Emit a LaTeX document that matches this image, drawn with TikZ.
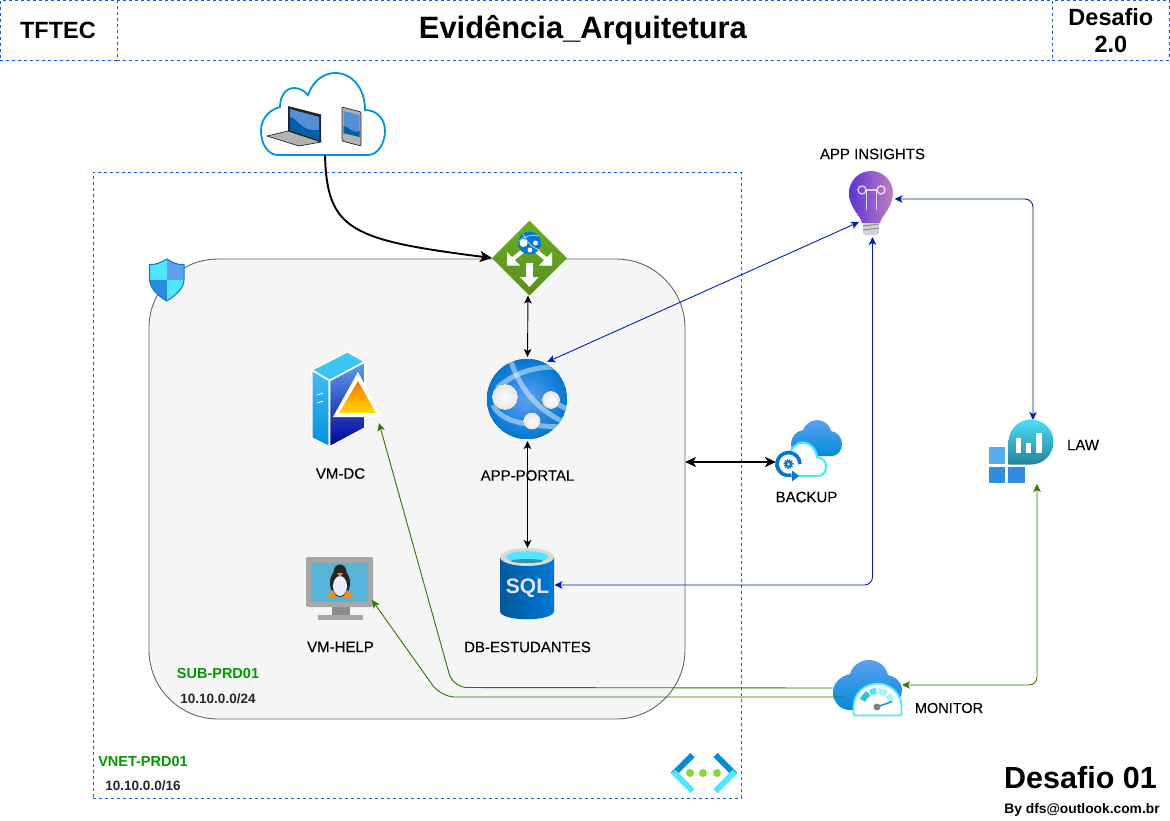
\documentclass[tikz,border=0pt]{standalone}
\usepackage{fontspec}
\setmainfont{Liberation Sans}
\newfontfamily\lblfont[FakeBold=0.12]{Liberation Sans}
\usetikzlibrary{arrows.meta,positioning}
\definecolor{dashblue}{RGB}{10,90,255}
\definecolor{arrowblue}{RGB}{0,29,188}
\definecolor{arrowgreen}{RGB}{45,118,0}
\definecolor{labelgreen}{RGB}{0,153,0}
\definecolor{subnetfill}{RGB}{245,245,245}
\definecolor{subnetline}{RGB}{102,102,102}
\definecolor{azblue}{RGB}{0,120,212}
\definecolor{azlight}{RGB}{94,160,239}
\definecolor{azcyan}{RGB}{80,230,255}
\definecolor{azteal}{RGB}{50,190,221}
\definecolor{gwgreen}{RGB}{112,178,42}
\definecolor{dotgreen}{RGB}{134,216,52}
\definecolor{vmscreen}{RGB}{85,180,216}
\tikzset{
dashline/.style={draw=dashblue, dash pattern=on 3pt off 3pt, line width=0.9pt},
headbox/.style={dashline, minimum height=59.5pt, inner sep=0pt, outer sep=0pt, align=center, font=\bfseries\fontsize{23.5}{27}\selectfont},
vnetbox/.style={dashline, minimum width=648pt, minimum height=626pt, inner sep=0pt, outer sep=0pt},
subnetbox/.style={draw=subnetline, fill=subnetfill, rounded corners=69pt, line width=0.9pt, minimum width=536pt, minimum height=460pt, inner sep=0pt, outer sep=0pt},
iconbox/.style={inner sep=0pt, outer sep=0pt},
lbl/.style={inner sep=0pt, font=\lblfont\fontsize{15}{18}\selectfont},
netname/.style={inner sep=0pt, text=labelgreen, font=\bfseries\fontsize{14.5}{17}\selectfont},
netaddr/.style={inner sep=0pt, text=black!85, font=\bfseries\fontsize{13.5}{16}\selectfont},
thinarrow/.style={{Stealth[length=8pt,width=7.5pt,inset=2pt]}-{Stealth[length=8pt,width=7.5pt,inset=2pt]}, line width=0.9pt},
thickarrow/.style={-{Stealth[length=12pt,width=11pt,inset=3pt]}, line width=1.9pt},
bluearrow/.style={thinarrow, draw=arrowblue, rounded corners=8pt},
greenarrow/.style={thinarrow, draw=arrowgreen, rounded corners=8pt},
greenline/.style={-{Stealth[length=8pt,width=7.5pt,inset=2pt]}, line width=0.9pt, draw=arrowgreen, rounded corners=14pt}
}
\begin{document}
\begin{tikzpicture}[x=1pt,y=-1pt]
\useasboundingbox (0,0) rectangle (1170,820);
% header
\node[headbox, minimum width=117pt] (tftec) at (58.9,30.25) {\hspace*{-2pt}TFTEC};
\node[headbox, draw=none, minimum width=935pt, font=\bfseries\fontsize{30.9}{34}\selectfont] (title) at (584.9,30.25) {\hspace*{-4pt}Evidência\_Arquitetura};
\node[headbox, minimum width=117pt] (stage) at (1110.9,30.25) {Desafio\\2.0};
\draw[dashline] (title.north west) -- (title.north east);
\draw[dashline] (title.south west) -- (title.south east);
% network boxes
\node[vnetbox] (vnet) at (417,485) {};
\node[subnetbox] (subnet) at (417,489) {};
\node[netname] (subname) at (218,673) {SUB-PRD01};
\node[netaddr] (subaddr) at (218,699) {10.10.0.0/24};
\node[netname] (vnetname) at (143,761) {VNET-PRD01};
\node[netaddr] (vnetaddr) at (143,786) {10.10.0.0/16};
% named places of the icons
\node[iconbox, minimum width=124pt, minimum height=82pt] (usercloud) at (323,114) {};
\node[iconbox, minimum width=75pt, minimum height=75pt] (gateway) at (529.5,258) {};
\node[iconbox, circle, minimum size=84pt] (portal) at (527.5,399) {};
\node[iconbox, minimum width=69pt, minimum height=95pt] (vmdc) at (346.5,399.5) {};
\node[iconbox, minimum width=67pt, minimum height=63pt] (vmhelp) at (339.5,588.5) {};
\node[iconbox, minimum width=54pt, minimum height=71pt] (sqldb) at (527.5,583.5) {};
\node[iconbox, minimum width=44pt, minimum height=66pt] (insights) at (872.5,204) {};
\node[iconbox, minimum width=64pt, minimum height=64pt] (law) at (1021,452) {};
\node[iconbox, minimum width=66pt, minimum height=84pt] (backup) at (809,462) {};
\node[iconbox, minimum width=69pt, minimum height=56pt] (monitor) at (867.5,688) {};
\node[iconbox, minimum width=67pt, minimum height=40pt] (vneticon) at (704,773) {};
\node[iconbox, minimum width=35pt, minimum height=42pt] (shield) at (166.7,280) {};
% shield
\begin{scope}
\clip (166.7,259) .. controls (160,263) and (155,265) .. (149.5,264.5) -- (149.5,280) .. controls (150,288) and (158,296) .. (166.7,301) .. controls (175,296) and (184,288) .. (184,280) -- (184,264.5) .. controls (178,265) and (173,263) .. (166.7,259) -- cycle;
\fill[azcyan] (149,259) rectangle (167,280);
\fill[azlight] (167,259) rectangle (185,280);
\fill[azblue!85] (149,280) rectangle (167,302);
\fill[azcyan] (167,280) rectangle (185,302);
\end{scope}
\draw[azblue, line width=1pt] (166.7,259) .. controls (160,263) and (155,265) .. (149.5,264.5) -- (149.5,280) .. controls (150,288) and (158,296) .. (166.7,301) .. controls (175,296) and (184,288) .. (184,280) -- (184,264.5) .. controls (178,265) and (173,263) .. (166.7,259) -- cycle;
% user cloud
\draw[draw=azblue!80!cyan, fill=white, line width=1.8pt] (278,155) -- (368,155) .. controls (378,155) and (385,143) .. (385,131) .. controls (385,118) and (376,110) .. (365,110) .. controls (365,88) and (352,73) .. (335,73) .. controls (322,73) and (312,83) .. (308,95) .. controls (304,90) and (298,88) .. (294,88) .. controls (285,88) and (280,97) .. (280,107) .. controls (268,110) and (261,120) .. (261,131) .. controls (261,144) and (268,155) .. (278,155) -- cycle;
\fill[black!85] (288,106) -- (321,114.5) -- (321,142) -- (288,132) -- cycle;
\fill[azlight!90!black] (290,109) -- (319,117) -- (319,140) -- (290,130) -- cycle;
\fill[azblue!80!black] (290,117) .. controls (298,118) and (300,132) .. (319,130) -- (319,140) -- (290,130) -- cycle;
\draw[black!85, fill=black!30, line width=0.7pt] (267,136) -- (288,131) -- (321,142) -- (299,146) -- cycle;
\draw[black!85, fill=black!30, line width=0.7pt, rounded corners=1pt] (342,107) -- (361,112) -- (361,146) -- (342,141) -- cycle;
\fill[azlight!90!black] (343.5,111) -- (359.5,115) -- (359.5,137) -- (343.5,133) -- cycle;
\fill[azblue!80!black] (343.5,126) .. controls (348,126) and (352,134) .. (359.5,131) -- (359.5,137) -- (343.5,133) -- cycle;
% gateway
\path[shade, top color=gwgreen!105!white, bottom color=gwgreen!80!black] (529.5,220.5) -- (567,258) -- (529.5,295.5) -- (492,258) -- cycle;
\fill[white] (526,263) rectangle (533,277);
\fill[white] (520,277) -- (538.5,277) -- (529.5,287) -- cycle;
\draw[white, line width=4pt] (513,259) -- (524,250);
\draw[white, line width=4pt] (546,259) -- (535,250);
\fill[white] (507,252) -- (507,265.5) -- (520,265.5) -- cycle;
\fill[white] (552,252) -- (552,265.5) -- (539,265.5) -- cycle;
\fill[azblue] (529.5,243) circle[radius=11.5pt];
\draw[white, opacity=0.6, line width=1pt] (523,234) .. controls (527,242) and (532,248) .. (540,250);
\draw[white, opacity=0.6, line width=1pt] (519,241) .. controls (525,236) and (532,234) .. (539,236);
\fill[white] (523.5,243) circle[radius=4pt];
\fill[white] (535.5,243) circle[radius=2.5pt];
\fill[white] (530,250) circle[radius=2.5pt];
% app portal
\begin{scope}
\clip (527,399) circle[radius=40pt];
\fill[inner color=azlight, outer color=azblue] (527,399) circle[radius=40pt];
\draw[white, opacity=0.45, line width=5pt] (510,358) .. controls (518,385) and (535,410) .. (568,424);
\draw[white, opacity=0.45, line width=5pt] (497,388) .. controls (515,372) and (540,364) .. (566,368);
\draw[white, opacity=0.45, line width=5pt] (551,400) -- (568,410);
\draw[white, opacity=0.45, line width=5pt] (493,405) .. controls (500,420) and (520,426) .. (565,427);
\end{scope}
\fill[inner color=white, outer color=black!10] (505,397) circle[radius=13pt];
\fill[inner color=white, outer color=black!10] (551,400) circle[radius=9pt];
\fill[inner color=white, outer color=black!10] (532,421) circle[radius=8.5pt];
% vm-dc
\draw[white, line width=1.6pt, fill=azlight!60!cyan] (347.3,351.7) -- (365,361.7) -- (329.5,380.7) -- (311.7,370) -- cycle;
\draw[white, line width=1.6pt, bottom color=azblue!80!cyan, top color=azlight!70!cyan] (311.7,370) -- (329.5,380.7) -- (329.5,447) -- (311.7,438) -- cycle;
\draw[white, line width=1.6pt, top color=azlight, bottom color=blue!60!black] (329.5,380.7) -- (365,361.7) -- (365,428) -- (329.5,447) -- cycle;
\draw[white, line width=0.8pt] (317,395) -- (323,393);
\draw[white, line width=0.8pt] (317,403) -- (323,401);
\fill[white] (358,372) -- (382,417) -- (333,417) -- cycle;
\path[shade, top color=orange!90!red, bottom color=yellow!70!orange] (358,381) -- (376,413) -- (339,413) -- cycle;
% vm-help
\fill[black!35, rounded corners=2pt] (306,557) rectangle (373,607);
\fill[black!45] (332,607) rectangle (350,615);
\fill[black!35] (318,615) rectangle (363,620);
\fill[vmscreen] (311,563) rectangle (368,602);
\fill[black!85] (340,583) ellipse[x radius=10pt, y radius=14pt];
\fill[black!85] (340,572) ellipse[x radius=6.5pt, y radius=7.5pt];
\fill[white!92!blue] (340,586) ellipse[x radius=7pt, y radius=10pt];
\fill[orange!90!yellow] (337,573) -- (343,573) -- (340,577) -- cycle;
\fill[orange!90!yellow] (327,597) -- (337,598) -- (333,590) -- cycle;
\fill[orange!90!yellow] (353,597) -- (343,598) -- (347,590) -- cycle;
% db
\path[shade, left color=azblue!75!black, right color=azblue] (500,557) -- (500,611) .. controls (500,622) and (554,622) .. (554,611) -- (554,557) -- cycle;
\fill[black!15] (527,557) ellipse[x radius=27pt, y radius=9pt];
\fill[azcyan] (527,557) ellipse[x radius=21pt, y radius=5.8pt];
\fill[azteal!80!black] (527,561) ellipse[x radius=16pt, y radius=2pt];
\node[iconbox, text=white!90!blue, font=\bfseries\fontsize{21}{24}\selectfont] (sqltext) at (527.5,588.5) {SQL};
% backup
\path[shade, top color=azlight, bottom color=azblue!85!cyan] (800,456) -- (832,456) .. controls (838,456) and (842,450) .. (842,444) .. controls (842,437) and (837,432) .. (831,431) .. controls (830,425) and (824,420) .. (817,420) .. controls (810,420) and (805,425) .. (803,430) .. controls (796,431) and (791,437) .. (791,444) .. controls (791,451) and (795,456) .. (800,456) -- cycle;
\draw[azcyan, fill=white, line width=2.2pt] (795,476) -- (818,476) .. controls (823,476) and (826,472) .. (826,467) .. controls (826,461) and (823,458) .. (817,457) .. controls (816,449) and (810,442.5) .. (803,442.5) .. controls (796,442.5) and (791,449) .. (789,455) .. controls (785,458) and (785,476) .. (795,476) -- cycle;
\fill[white] (788.5,464) circle[radius=13pt];
\draw[azblue, line width=3.6pt] (800,464) arc[start angle=0, end angle=215, radius=11.5pt];
\draw[azblue, line width=3.6pt] (777,464) arc[start angle=180, end angle=285, radius=11.5pt];
\fill[azblue] (792,470.5) -- (799,476) -- (792,481.5) -- cycle;
\draw[azblue, line width=1.5pt, dash pattern=on 1.2pt off 1.2pt] (788.5,464) circle[radius=4.4pt];
\fill[azblue] (788.5,464) circle[radius=3.8pt];
\fill[white] (788.5,464) circle[radius=1.5pt];
% insights
\path[shade, left color=blue!60!violet!80, right color=violet!50!white] (862,223) .. controls (860,215) and (849,207) .. (849,193) arc[start angle=180, end angle=0, radius=22pt] .. controls (893,207) and (882,215) .. (880,223) -- cycle;
\draw[white, opacity=0.75, line width=1.4pt] (862,190) circle[radius=4pt];
\draw[white, opacity=0.75, line width=1.4pt] (881,190) circle[radius=4pt];
\draw[white, opacity=0.7, line width=1.4pt] (866,190) -- (877,190);
\draw[white, opacity=0.7, line width=1.6pt] (866.5,190) -- (866.5,210);
\draw[white, opacity=0.7, line width=1.6pt] (876.5,190) -- (876.5,210);
\fill[black!18, rounded corners=3pt] (863,223) rectangle (879,235);
\draw[black!45, line width=1pt] (863,226) -- (879,224);
\draw[black!45, line width=1pt] (863,230) -- (879,228);
% law
\path[shade, top color=azcyan!80!azteal, bottom color=azteal!70!black] (1008.5,442) arc[start angle=180, end angle=-90, radius=22.5pt] -- (1008.5,464.5) -- cycle;
\fill[white] (1015.7,438) rectangle (1021,453);
\fill[white] (1025.7,443) rectangle (1031,453);
\fill[white] (1036,433) rectangle (1041.7,453);
\fill[azlight!85!cyan] (989,447) rectangle (1005,464);
\fill[azlight!50!azblue] (989,467) rectangle (1005,483);
\fill[azlight!50!azblue] (1008,467) rectangle (1025,483);
% monitor
\path[shade, top color=azlight, bottom color=azblue!85!cyan] (850,710) -- (885,710) .. controls (895,710) and (902,697) .. (902,690) .. controls (902,682) and (896,677) .. (888,675) .. controls (886,666) and (878,660) .. (869,660) .. controls (860,660) and (852,666) .. (850,674) .. controls (840,676) and (833,684) .. (833,692) .. controls (833,702) and (840,710) .. (850,710) -- cycle;
\draw[azcyan, fill=white, line width=1.8pt, rounded corners=1.5pt] (853.5,715.5) -- (853.5,707.5) arc[start angle=180, end angle=0, radius=24pt] -- (901.5,715.5) -- cycle;
\draw[azteal, line width=6pt] (877,707) ++(155:16pt) arc[start angle=155, end angle=122, radius=16pt];
\draw[azcyan, line width=6pt] (877,707) ++(115:16pt) arc[start angle=115, end angle=92, radius=16pt];
\draw[azcyan!50!white, line width=6pt] (877,707) ++(85:16pt) arc[start angle=85, end angle=55, radius=16pt];
\draw[azcyan!50!white, line width=6pt] (877,707) ++(48:16pt) arc[start angle=48, end angle=22, radius=16pt];
\draw[azteal!80!black, line width=1.6pt] (877,707) -- (892,701.5);
\fill[black!50] (877,707) circle[radius=3.5pt];
% vnet icon
\draw[azblue!85!cyan, line width=6pt] (673,774.5) -- (692.5,755);
\draw[azcyan, line width=6pt] (673,771.5) -- (692.5,791);
\draw[azblue!85!cyan, line width=6pt] (735,774.5) -- (715.5,755);
\draw[azcyan, line width=6pt] (735,771.5) -- (715.5,791);
\fill[dotgreen] (690,773) circle[radius=4pt];
\fill[dotgreen] (703,773) circle[radius=4pt];
\fill[dotgreen] (717,773) circle[radius=4pt];
% labels
\node[lbl, below=21pt of vmdc, xshift=-6pt] (vmdclabel) {VM-DC};
\node[lbl, below=29pt of portal] (portallabel) {APP-PORTAL};
\node[lbl, below=21.5pt of vmhelp, xshift=1pt] (vmhelplabel) {VM-HELP};
\node[lbl, below=22.5pt of sqldb] (sqllabel) {DB-ESTUDANTES};
\node[lbl, above=11.5pt of insights] (insightslabel) {APP INSIGHTS};
\node[lbl] (lawlabel) at (1083,445) {LAW};
\node[lbl] (backuplabel) at (806.5,497) {BACKUP};
\node[lbl, font=\lblfont\fontsize{14.5}{17}\selectfont] (monitorlabel) at (949,708) {MONITOR};
\node[iconbox, font=\bfseries\fontsize{30.5}{34}\selectfont] (challenge) at (1080.5,778) {Desafio 01};
\node[iconbox, font=\bfseries\fontsize{13.8}{16}\selectfont] (byline) at (1082,810) {By dfs@outlook.com.br};
% connector corners
\coordinate (dctip) at (379,423);
\coordinate (helptip) at (372,600);
\coordinate (insightstip) at (859,222);
\coordinate (dcbend) at (453,687.5);
\coordinate (helpbend) at (441,697);
\coordinate (helpstart) at (843,697);
% connectors
\draw[thickarrow] ([xshift=2pt]usercloud.south) .. controls (327,230) and (350,240) .. (gateway.west);
\draw[thinarrow] ([xshift=-1.5pt]gateway.south) -- (portal.north);
\draw[thinarrow] (portal.south) -- (sqldb.north);
\draw[thickarrow, {Stealth[length=11pt,width=10pt,inset=3pt]}-{Stealth[length=11pt,width=10pt,inset=3pt]}] (backup.west -| subnet.east) -- (backup.west);
\draw[bluearrow] (portal.62) -- (insightstip);
\draw[bluearrow] ([yshift=-1.5pt]sqldb.east) -- ([yshift=-1.5pt]sqldb.east -| insights.south) -- (insights.south);
\draw[bluearrow] ([yshift=5pt]insights.east) -| ([xshift=12pt]law.north);
\draw[greenarrow] ([yshift=3pt]monitor.east) -| ([xshift=16pt]law.south);
\draw[greenline] (monitor.west) -- (dcbend) -- (dctip);
\draw[greenline] (helpstart) -- (helpbend) -- (helptip);
\end{tikzpicture}
\end{document}
